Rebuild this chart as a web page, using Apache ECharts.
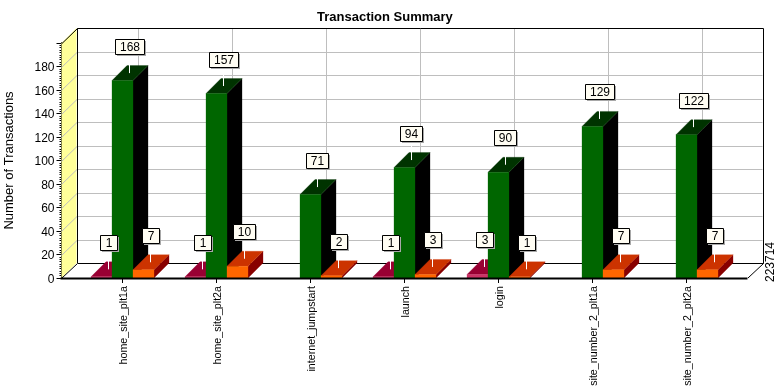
<!DOCTYPE html>
<html><head><meta charset="utf-8">
<style>html,body{margin:0;padding:0;background:#fff}#c{width:778px;height:390px}</style>
<script src="https://cdn.jsdelivr.net/npm/echarts@6/dist/echarts.min.js"></script>
</head><body><div id="c"></div>
<script>
const categories = ['home_site_plt1a','home_site_plt2a','internet_jumpstart','launch','login','site_number_2_plt1a','site_number_2_plt2a'];
const crimsonValues = [1,1,0,1,3,0,0];
const greenValues = [168,157,71,94,90,129,122];
const orangeValues = [7,10,2,3,1,7,7];
const yTicksMax = 200;

const FONT = '"Liberation Sans", Arial, sans-serif';
const DEPTH = 15, BAR_W = 21, AXIS_PAD = 14;
const toData = a => a.map((v,i)=>[i,v]);

function poly(points, fill){
  return {type:'polygon', shape:{points}, style:{fill, stroke:fill, lineWidth:0.3}};
}
function barItem(offset, colors){
  return function(params, api){
    const v = api.value(1);
    if(!v) return {type:'group', children:[]};
    const p = api.coord([api.value(0), v]);
    const b = api.coord([api.value(0), 0]);
    const x0 = p[0] + offset*BAR_W - BAR_W/2, x1 = x0 + BAR_W, y = p[1], yb = b[1];
    return {type:'group', children:[
      poly([[x1,y],[x1+DEPTH,y-DEPTH],[x1+DEPTH,yb-DEPTH],[x1,yb]], colors.side),
      poly([[x0,y],[x1,y],[x1+DEPTH,y-DEPTH],[x0+DEPTH,y-DEPTH]], colors.top),
      poly([[x0,y],[x1,y],[x1,yb],[x0,yb]], colors.front)
    ]};
  };
}
function labelItem(offset){
  return function(params, api){
    const v = api.value(1);
    if(!v) return {type:'group', children:[]};
    const p = api.coord([api.value(0), v]);
    const cx = Math.round(p[0] + offset*BAR_W + 6.5), ty = p[1]-DEPTH/2;
    const s = String(v);
    const w = s.length===3 ? 29 : s.length===2 ? 22 : 17, h = 15;
    const by = Math.round(ty-27-h/2), bx = Math.round(cx-w/2);
    return {type:'group', children:[
      {type:'line', shape:{x1:cx+0.5,y1:by+h,x2:cx+0.5,y2:ty}, style:{stroke:'#fff',lineWidth:1}},
      {type:'rect', shape:{x:bx+2,y:by+2,width:w,height:h}, style:{fill:'#a8a8a8'}},
      {type:'rect', shape:{x:bx+0.5,y:by+0.5,width:w,height:h}, style:{fill:'#FFFDF3',stroke:'#000',lineWidth:1}},
      {type:'text', x:bx+w/2+0.5, y:by+h/2+1, style:{text:s, fill:'#000', font:'12px '+FONT, align:'center', verticalAlign:'middle'}}
    ]};
  };
}
function sceneItem(params, api){
  const lo = api.coord([0,0]), hi = api.coord([categories.length-1, yTicksMax]);
  const band = api.size([1,0])[0];
  const L = lo[0]-band/2-AXIS_PAD, R = hi[0]+band/2+AXIS_PAD, B = lo[1], T = hi[1];
  const d = DEPTH;
  const kids = [];
  kids.push({type:'polygon', shape:{points:[[L,T],[L+d,T-d],[L+d,B-d],[L,B]]}, style:{fill:'#FFFF99'}});
  const grid = '#BEBEBE';
  for(let v=20; v<yTicksMax; v+=20){
    const y = Math.round(api.coord([0,v])[1])+0.5;
    kids.push({type:'polyline', shape:{points:[[L,y],[L+d+0.5,y-d],[R+d,y-d]]}, style:{stroke:grid,fill:null,lineWidth:1}});
  }
  categories.forEach((c,i)=>{
    const x = Math.round(api.coord([i,0])[0]+d)+0.5;
    kids.push({type:'line', shape:{x1:x,y1:T-d,x2:x,y2:B-d}, style:{stroke:grid,lineWidth:1}});
  });
  const black = {stroke:'#000',lineWidth:1,fill:null};
  const lx = Math.round(L), rx = Math.round(R), ty = Math.round(T)+0.5, by = Math.round(B);
  kids.push({type:'polyline', shape:{points:[[lx,ty],[lx+d+0.5,ty-d],[rx+d+0.5,ty-d],[rx+d+0.5,by-d+0.5],[rx,by]]}, style:black});
  kids.push({type:'polyline', shape:{points:[[lx,by],[lx+d+0.5,by-d+0.5],[rx+d+0.5,by-d+0.5]]}, style:black});
  kids.push({type:'line', shape:{x1:lx+d+0.5,y1:ty-d,x2:lx+d+0.5,y2:by-d}, style:black});
  return {type:'group', children:kids};
}
function bottomLine(params, api){
  const lo = api.coord([0,0]), hi = api.coord([categories.length-1,0]);
  const band = api.size([1,0])[0];
  const y = Math.round(lo[1])+0.5;
  return {type:'line', shape:{x1:lo[0]-band/2-AXIS_PAD-1,y1:y,x2:hi[0]+band/2+AXIS_PAD,y2:y}, style:{stroke:'#000',lineWidth:2}};
}
const custom = (name,data,renderItem,z)=>({type:'custom',name,data,renderItem,z,silent:true,clip:false,encode:{x:0,y:1}});

const chart = echarts.init(document.getElementById('c'), null, {renderer:'canvas'});
chart.setOption({
  animation:false,
  backgroundColor:'#fff',
  title:{text:'Transaction Summary', left:312, top:6,
    textStyle:{fontFamily:FONT,fontSize:13,fontWeight:'bold',color:'#000'}},
  grid:{left:75.5,top:43,width:658,height:235,outerBoundsMode:'none'},
  xAxis:{type:'category',data:categories,
    axisLine:{show:false},
    axisTick:{show:true,alignWithLabel:true,length:5,lineStyle:{color:'#000'}},
    axisLabel:{rotate:90,margin:8,interval:0,color:'#000',fontFamily:FONT,fontSize:10.7,
      formatter:v=>'{a|'+v+'}',
      rich:{a:{fontFamily:FONT,fontSize:10.7,color:'#000',padding:[3,0,0,0]}}},
    splitLine:{show:false}},
  yAxis:{type:'value',min:0,max:yTicksMax,interval:20,offset:AXIS_PAD,
    name:'Number of Transactions',nameLocation:'middle',nameGap:46,
    nameTextStyle:{fontFamily:FONT,fontSize:13,color:'#000'},
    axisLine:{show:true,lineStyle:{color:'#000',width:2}},
    axisTick:{show:true,length:5,lineStyle:{color:'#000'}},
    minorTick:{show:true,splitNumber:10,length:2,lineStyle:{color:'#000'}},
    minorSplitLine:{show:false},
    axisLabel:{margin:7,color:'#000',fontFamily:FONT,fontSize:12,
      formatter:v=> v===yTicksMax?'':'{a|'+v+'}',
      rich:{a:{fontFamily:FONT,fontSize:12,color:'#000',padding:[3,0,0,0]}}},
    splitLine:{show:false}},
  graphic:[{type:'text',x:765,y:282,rotation:Math.PI/2,
    style:{text:'223714',fill:'#000',font:'12px '+FONT,align:'left',verticalAlign:'top'}}],
  series:[
    custom('scene',[[0,0]],sceneItem,1),
    custom('crimson',toData(crimsonValues),barItem(-1,{front:'#CC3366',top:'#990033',side:'#660033'}),2),
    custom('green',toData(greenValues),barItem(0,{front:'#006600',top:'#003300',side:'#000000'}),3),
    custom('orange',toData(orangeValues),barItem(1,{front:'#FF6600',top:'#CC3300',side:'#880000'}),4),
    custom('axisbase',[[0,0]],bottomLine,5),
    custom('crimsonLabels',toData(crimsonValues),labelItem(-1),6),
    custom('greenLabels',toData(greenValues),labelItem(0),6),
    custom('orangeLabels',toData(orangeValues),labelItem(1),6)
  ]
});
</script></body></html>
